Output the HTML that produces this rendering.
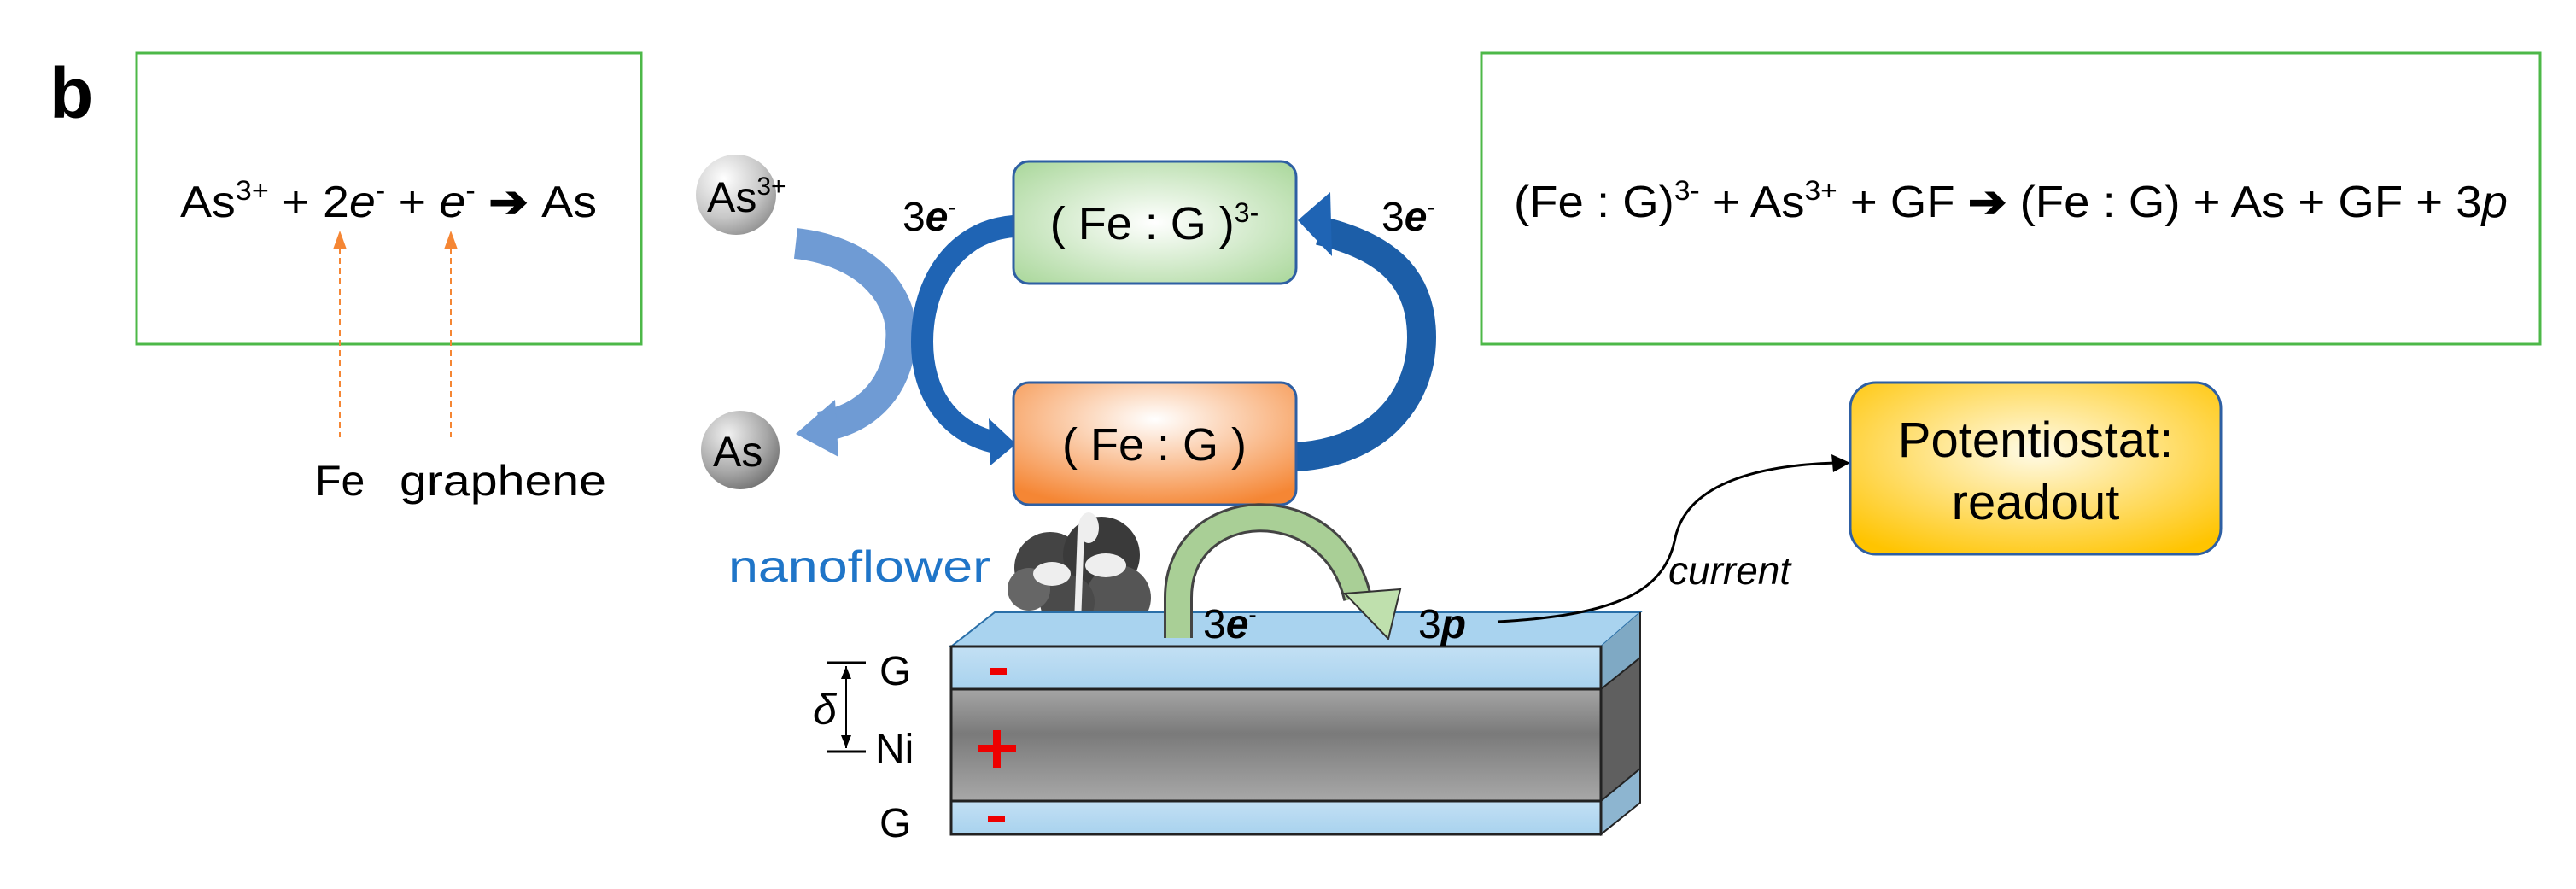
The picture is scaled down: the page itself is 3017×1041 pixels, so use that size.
<!DOCTYPE html>
<html><head><meta charset="utf-8"><style>
html,body{margin:0;padding:0;background:#fff;}
svg{display:block;}
text{font-family:"Liberation Sans",sans-serif;}
</style></head><body>
<svg width="3017" height="1041" viewBox="0 0 3017 1041" xmlns="http://www.w3.org/2000/svg">
<defs>
<radialGradient id="sph" cx="0.35" cy="0.3" r="0.8"><stop offset="0" stop-color="#ffffff"/><stop offset="0.6" stop-color="#c8c8c8"/><stop offset="1" stop-color="#8a8a8a"/></radialGradient>
<radialGradient id="sph2" cx="0.35" cy="0.3" r="0.8"><stop offset="0" stop-color="#f0f0f0"/><stop offset="0.6" stop-color="#a8a8a8"/><stop offset="1" stop-color="#6a6a6a"/></radialGradient>
<radialGradient id="grn" cx="0.5" cy="0.5" r="0.7"><stop offset="0" stop-color="#ffffff"/><stop offset="1" stop-color="#a9d79a"/></radialGradient>
<radialGradient id="org" cx="0.5" cy="0.3" r="0.75"><stop offset="0" stop-color="#ffffff"/><stop offset="1" stop-color="#f58634"/></radialGradient>
<radialGradient id="yel" cx="0.5" cy="0.4" r="0.7"><stop offset="0" stop-color="#fffbe8"/><stop offset="1" stop-color="#ffc400"/></radialGradient>
<linearGradient id="ni" x1="0" y1="0" x2="0" y2="1"><stop offset="0" stop-color="#a5a5a5"/><stop offset="0.4" stop-color="#7a7a7a"/><stop offset="1" stop-color="#a8a8a8"/></linearGradient>
<linearGradient id="gl" x1="0" y1="0" x2="0" y2="1"><stop offset="0" stop-color="#c3e0f4"/><stop offset="1" stop-color="#a8d2ee"/></linearGradient>
</defs>

<text x="58" y="138" font-size="84" font-weight="bold">b</text>

<!-- left box -->
<rect x="160" y="62" width="591" height="341" fill="none" stroke="#4db848" stroke-width="3"/>
<text x="211" y="254" font-size="52" textLength="488" lengthAdjust="spacingAndGlyphs">As<tspan dy="-20" font-size="32">3+</tspan><tspan dy="20"> + 2</tspan><tspan font-style="italic">e</tspan><tspan dy="-20" font-size="32">-</tspan><tspan dy="20"> + </tspan><tspan font-style="italic">e</tspan><tspan dy="-20" font-size="32">-</tspan><tspan dy="20" font-weight="bold"> ➔ </tspan><tspan>As</tspan></text>
<g stroke="#f58634" stroke-width="2" stroke-dasharray="7,5">
<line x1="398" y1="290" x2="398" y2="512"/><line x1="528" y1="290" x2="528" y2="512"/></g>
<polygon points="398,270 390,292 406,292" fill="#f58634"/>
<polygon points="528,270 520,292 536,292" fill="#f58634"/>
<text x="369" y="580" font-size="50">Fe</text>
<text x="468" y="580" font-size="50" textLength="242" lengthAdjust="spacingAndGlyphs">graphene</text>

<!-- right box -->
<rect x="1735" y="62" width="1240" height="341" fill="none" stroke="#4db848" stroke-width="3"/>
<text x="1773" y="254" font-size="52" textLength="1164" lengthAdjust="spacingAndGlyphs">(Fe : G)<tspan dy="-20" font-size="32">3-</tspan><tspan dy="20"> + As</tspan><tspan dy="-20" font-size="32">3+</tspan><tspan dy="20"> + GF </tspan><tspan font-weight="bold">➔</tspan><tspan> (Fe : G) + As + GF + 3</tspan><tspan font-style="italic">p</tspan></text>

<!-- spheres -->
<circle cx="862" cy="228" r="47" fill="url(#sph)"/>
<text x="828" y="248" font-size="50">As<tspan dy="-20" font-size="30">3+</tspan></text>
<circle cx="867" cy="527" r="46" fill="url(#sph2)"/>
<text x="835" y="546" font-size="50">As</text>

<!-- light blue arrow -->
<path d="M932,285 C1020,295 1060,350 1055,400 C1050,450 1020,490 960,500" fill="none" stroke="#6f9bd4" stroke-width="36"/>
<polygon points="932,508 978,468 982,535" fill="#6f9bd4"/>

<!-- dark blue arrows -->
<path d="M1187,265 C1120,270 1080,330 1080,400 C1080,460 1110,505 1165,518" fill="none" stroke="#1f64b4" stroke-width="26"/>
<polygon points="1190,520 1158,490 1160,545" fill="#1f64b4"/>
<path d="M1518,535 C1610,530 1665,470 1665,395 C1665,330 1630,290 1545,270" fill="none" stroke="#1c5ea8" stroke-width="34"/>
<polygon points="1520,258 1558,225 1560,300" fill="#1f64b4"/>
<text x="1057" y="270" font-size="48">3<tspan font-weight="bold" font-style="italic">e</tspan><tspan dy="-18" font-size="28">-</tspan></text>
<text x="1618" y="270" font-size="48">3<tspan font-weight="bold" font-style="italic">e</tspan><tspan dy="-18" font-size="28">-</tspan></text>

<!-- Fe:G boxes -->
<rect x="1187" y="189" width="331" height="143" rx="18" fill="url(#grn)" stroke="#2e5fa3" stroke-width="3"/>
<text x="1352" y="280" font-size="54" text-anchor="middle">( Fe : G )<tspan dy="-20" font-size="32">3-</tspan></text>
<rect x="1187" y="448" width="331" height="143" rx="18" fill="url(#org)" stroke="#2e5fa3" stroke-width="3"/>
<text x="1352" y="539" font-size="54" text-anchor="middle">( Fe : G )</text>

<!-- nanoflower -->
<text x="853" y="681" font-size="52" fill="#1f75c8" textLength="307" lengthAdjust="spacingAndGlyphs">nanoflower</text>
<g>
<circle cx="1230" cy="665" r="42" fill="#444"/><circle cx="1290" cy="650" r="45" fill="#3a3a3a"/>
<circle cx="1310" cy="700" r="38" fill="#555"/><circle cx="1250" cy="705" r="32" fill="#4a4a4a"/>
<circle cx="1205" cy="690" r="25" fill="#666"/>
<path d="M1262,730 L1266,620" stroke="#eee" stroke-width="8"/>
<ellipse cx="1232" cy="672" rx="22" ry="14" fill="#eee"/><ellipse cx="1295" cy="662" rx="24" ry="14" fill="#eee"/>
<ellipse cx="1275" cy="618" rx="12" ry="18" fill="#eee"/>
<ellipse cx="1260" cy="735" rx="40" ry="6" fill="#eee"/>
</g>

<!-- slab -->
<polygon points="1114,757 1875,757 1921,717 1165,717" fill="#a9d3ef" stroke="#2a6fa8" stroke-width="2"/>
<polygon points="1875,757 1921,717 1921,900 1875,938" fill="#7fa9c4"/>
<polygon points="1875,807 1921,770 1921,900 1875,938" fill="#5f5f5f"/>
<polygon points="1875,938 1921,900 1921,940 1875,977" fill="#8db5d0" stroke="#222" stroke-width="2"/>
<line x1="1875" y1="807" x2="1921" y2="770" stroke="#222" stroke-width="2"/>
<line x1="1921" y1="717" x2="1921" y2="940" stroke="#222" stroke-width="2"/>
<rect x="1114" y="757" width="761" height="50" fill="url(#gl)" stroke="#222" stroke-width="3"/>
<rect x="1114" y="807" width="761" height="131" fill="url(#ni)" stroke="#222" stroke-width="3"/>
<rect x="1114" y="938" width="761" height="39" fill="url(#gl)" stroke="#222" stroke-width="3"/>
<rect x="1159" y="782" width="20" height="8" fill="#e00"/>
<rect x="1157" y="955" width="20" height="8" fill="#e00"/>
<rect x="1146" y="872" width="44" height="9" fill="#e00"/><rect x="1163" y="855" width="9" height="44" fill="#e00"/>
<text x="1030" y="802" font-size="48">G</text>
<text x="1025" y="893" font-size="48">Ni</text>
<text x="1030" y="980" font-size="48">G</text>
<line x1="968" y1="776" x2="1014" y2="776" stroke="#000" stroke-width="3"/>
<line x1="968" y1="880" x2="1014" y2="880" stroke="#000" stroke-width="3"/>
<line x1="991" y1="780" x2="991" y2="876" stroke="#000" stroke-width="2"/>
<polygon points="991,780 985,795 997,795" fill="#000"/><polygon points="991,876 985,861 997,861" fill="#000"/>
<text x="952" y="848" font-size="50" font-style="italic" font-family="Liberation Serif, serif">δ</text>

<!-- green arch -->
<path d="M1380,747 L1380,700 C1380,580 1560,570 1590,700" fill="none" stroke="#444" stroke-width="34"/>
<path d="M1380,747 L1380,700 C1380,580 1560,570 1590,700" fill="none" stroke="#a9cf96" stroke-width="28"/>
<polygon points="1626,748 1575,695 1640,690" fill="#bfe0ad" stroke="#333" stroke-width="2"/>
<text x="1409" y="747" font-size="48">3<tspan font-weight="bold" font-style="italic">e</tspan><tspan dy="-18" font-size="28">-</tspan></text>
<text x="1661" y="747" font-size="48">3<tspan font-weight="bold" font-style="italic">p</tspan></text>

<!-- current -->
<path d="M1754,728 C1900,720 1950,690 1962,630 C1975,570 2050,545 2150,542" fill="none" stroke="#000" stroke-width="3"/>
<polygon points="2167,542 2145,532 2147,553" fill="#000"/>
<text x="1954" y="684" font-size="46" font-style="italic">current</text>

<!-- potentiostat -->
<rect x="2167" y="448" width="434" height="201" rx="30" fill="url(#yel)" stroke="#2e5fa3" stroke-width="3"/>
<text x="2384" y="535" font-size="58" text-anchor="middle">Potentiostat:</text>
<text x="2384" y="608" font-size="58" text-anchor="middle">readout</text>
</svg>
</body></html>
